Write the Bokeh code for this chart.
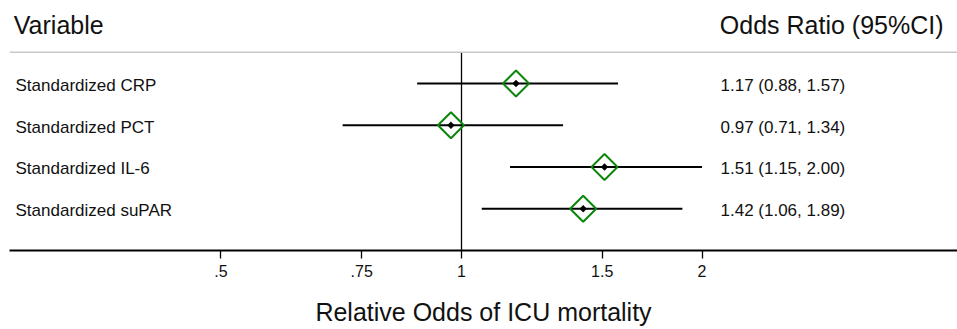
import numpy as np
from bokeh.plotting import figure
from bokeh.core.properties import value
from bokeh.models import (ColumnDataSource, Range1d, FixedTicker, CustomJSTickFormatter,
                          LabelSet, Label, Span)
from bokeh.embed import file_html
from bokeh.resources import INLINE

# ---- data ----
variables = ["Standardized CRP", "Standardized PCT", "Standardized IL-6", "Standardized suPAR"]
odds = [1.17, 0.97, 1.51, 1.42]
lower = [0.88, 0.71, 1.15, 1.06]
upper = [1.57, 1.34, 2.00, 1.89]
tick_values = [0.5, 0.75, 1, 1.5, 2]
tick_labels = [".5", ".75", "1", "1.5", "2"]
null_value = 1
x_title = "Relative Odds of ICU mortality"
col_left = "Variable"
col_right = "Odds Ratio (95%CI)"

n = len(variables)
ypos = [n - i for i in range(n)]
ci_text = [f"{o:.2f} ({l:.2f}, {u:.2f})" for o, l, u in zip(odds, lower, upper)]

src = ColumnDataSource(dict(var=variables, odds=odds, lower=lower, upper=upper,
                            y=ypos, ci=ci_text))

# ---- layout ----
W, H = 957, 329
FONT = "Liberation Sans"
GREEN = "#0a870a"
TXT = "#111111"
rule_y = 4.750
head_y = 5.40

p = figure(width=W, height=H, x_axis_type="log", y_axis_location=None,
           x_range=Range1d(0.27183, 4.176), y_range=Range1d(0, 5.988),
           output_backend="svg", toolbar_location=None,
           min_border_left=9, min_border_right=0, min_border_top=0, min_border_bottom=79)
p.outline_line_color = None
p.grid.visible = False
p.background_fill_color = "white"
p.border_fill_color = "white"

ax = p.xaxis[0]
ax.ticker = FixedTicker(ticks=tick_values, minor_ticks=[])
ax.formatter = CustomJSTickFormatter(args=dict(vals=tick_values, labs=tick_labels), code="""
    const i = vals.findIndex(v => Math.abs(v - tick) < 1e-9);
    return i >= 0 ? labs[i] : '';
""")
ax.axis_line_color = "black"
ax.axis_line_width = 2
ax.major_tick_out = 8
ax.major_tick_in = 0
ax.major_tick_line_width = 1.3
ax.minor_tick_out = 0
ax.minor_tick_in = 0
ax.major_label_text_font = FONT
ax.major_label_text_font_size = "16px"
ax.major_label_text_color = TXT
ax.major_label_text_line_height = 1.0
ax.major_label_standoff = 6
ax.axis_label = x_title
ax.axis_label_text_font = FONT
ax.axis_label_text_font_size = "25px"
ax.axis_label_text_font_style = "normal"
ax.axis_label_text_color = TXT
ax.axis_label_text_line_height = 1.0
ax.axis_label_standoff = 18

# header rule
p.add_layout(Span(location=rule_y, dimension="width", line_color="#c8c8c8", line_width=1.5))
# null line
p.segment(x0=[null_value], x1=[null_value], y0=[0], y1=[rule_y], line_color="black", line_width=1.3)

# CI lines
p.segment(x0="lower", x1="upper", y0="y", y1="y", source=src, line_color="black", line_width=2.2)
# markers
p.scatter(x="odds", y="y", source=src, marker="square", angle=np.pi / 4, size=18.4,
          fill_color=None, line_color=GREEN, line_width=2)
p.scatter(x="odds", y="y", source=src, marker="square", angle=np.pi / 4, size=4.8,
          fill_color="black", line_color="black", line_width=0.5)

# text columns
p.add_layout(LabelSet(x=6, y="y", x_units="screen", y_offset=-7.4, text="var", source=src,
                      text_font=value(FONT), text_font_size=value("17px"),
                      text_baseline="alphabetic", text_color=TXT))
p.add_layout(LabelSet(x=711, y="y", x_units="screen", y_offset=-7.4, text="ci", source=src,
                      text_font=value(FONT), text_font_size=value("17px"),
                      text_baseline="alphabetic", text_color=TXT))
p.add_layout(Label(x=4.3, y=head_y, x_units="screen", text=col_left,
                   text_font=FONT, text_font_size="25px", text_baseline="alphabetic",
                   text_color=TXT))
p.add_layout(Label(x=934, y=head_y, x_units="screen", text=col_right, text_align="right",
                   text_font=FONT, text_font_size="25px", text_baseline="alphabetic",
                   text_color=TXT))

open("out.html", "w").write(file_html(p, INLINE))
